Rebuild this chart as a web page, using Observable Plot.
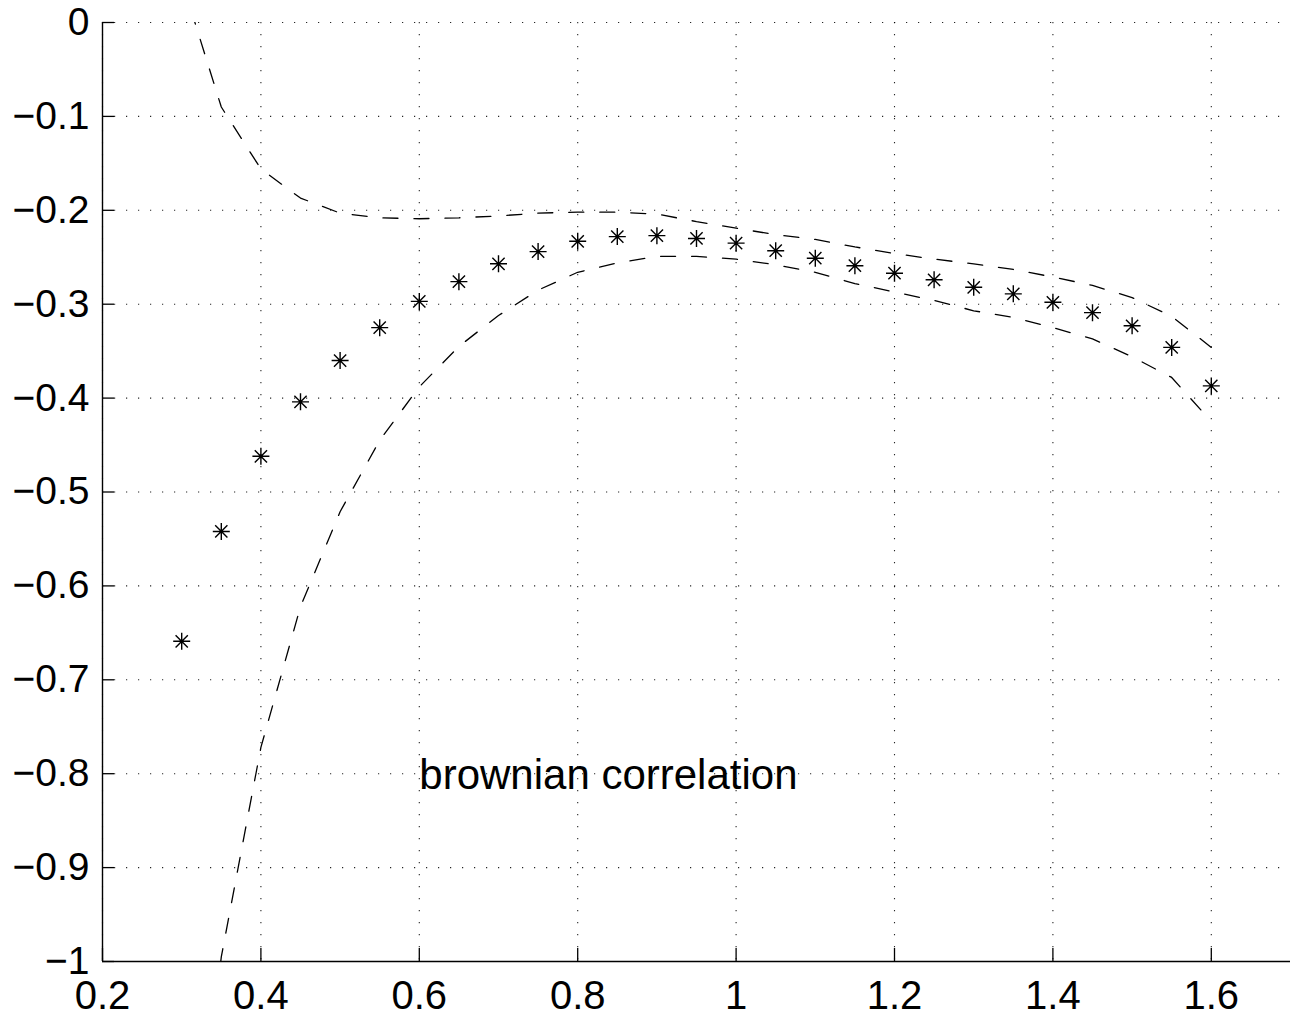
<!DOCTYPE html>
<html>
<head>
<meta charset="utf-8">
<script src="https://cdn.jsdelivr.net/npm/d3@7"></script>
<script src="https://cdn.jsdelivr.net/npm/@observablehq/plot@0.6"></script>
<style>
  html, body { margin: 0; padding: 0; background: #fff; }
  #chart svg { display: block; }
</style>
</head>
<body>
<div id="chart"></div>
<script>
// ---- data ----
const xs = [0.3, 0.35, 0.4, 0.45, 0.5, 0.55, 0.6, 0.65, 0.7, 0.75, 0.8, 0.85, 0.9, 0.95,
            1.0, 1.05, 1.1, 1.15, 1.2, 1.25, 1.3, 1.35, 1.4, 1.45, 1.5, 1.55, 1.6];
const estimate = [-0.659, -0.542, -0.462, -0.404, -0.360, -0.325, -0.297, -0.276, -0.257, -0.244,
                  -0.233, -0.228, -0.227, -0.230, -0.235, -0.243, -0.251, -0.259, -0.267, -0.274,
                  -0.282, -0.289, -0.298, -0.309, -0.323, -0.346, -0.387];
const upperBand = [0.045, -0.090, -0.156, -0.187, -0.203, -0.208, -0.209, -0.208, -0.206, -0.203,
                   -0.202, -0.202, -0.204, -0.212, -0.219, -0.226, -0.231, -0.239, -0.246, -0.252,
                   -0.257, -0.263, -0.271, -0.280, -0.293, -0.313, -0.346];
const lowerBand = [-1.363, -0.995, -0.772, -0.622, -0.521, -0.445, -0.388, -0.345, -0.312, -0.285,
                   -0.266, -0.256, -0.249, -0.249, -0.252, -0.258, -0.266, -0.278, -0.287, -0.296,
                   -0.307, -0.314, -0.325, -0.337, -0.356, -0.378, -0.425];
const xTicks = [0.2, 0.4, 0.6, 0.8, 1.0, 1.2, 1.4, 1.6];
const yTicks = [0, -0.1, -0.2, -0.3, -0.4, -0.5, -0.6, -0.7, -0.8, -0.9, -1];
const xDomain = [0.2, 1.7];
const yDomain = [-1, 0];
const annotation = [{x: 0.6, y: -0.8, label: "brownian correlation"}];

// ---- build ----
const stars = xs.map((x, i) => ({x, y: estimate[i]}));
const upper = xs.map((x, i) => ({x, y: upperBand[i]}));
const lower = xs.map((x, i) => ({x, y: lowerBand[i]}));

const W = 1299, H = 1019;
const mL = 102, mR = 9, mT = 22, mB = 58;
const fmt = d3.format("~g");
const font = "'Liberation Sans', Helvetica, Arial, sans-serif";

const asterisk = {
  draw(ctx, size) {
    const r = Math.sqrt(size / Math.PI);
    const d = r * 0.72;
    ctx.moveTo(-r, 0); ctx.lineTo(r, 0);
    ctx.moveTo(0, -r); ctx.lineTo(0, r);
    ctx.moveTo(-d, -d); ctx.lineTo(d, d);
    ctx.moveTo(-d, d); ctx.lineTo(d, -d);
  }
};

const grid = {stroke: "#000", strokeOpacity: 0.85, strokeWidth: 1.1, strokeDasharray: "1.2,10.8"};

const chart = Plot.plot({
  width: W, height: H,
  marginLeft: mL, marginRight: mR, marginTop: mT, marginBottom: mB,
  style: {fontFamily: font, background: "#fff", color: "#000", overflow: "visible"},
  x: {domain: xDomain, axis: null},
  y: {domain: yDomain, axis: null},
  marks: [
    Plot.ruleX(xTicks, {x: d => d, ...grid}),
    Plot.ruleY(yTicks, {y: d => d, ...grid}),
    Plot.line(upper, {x: "x", y: "y", stroke: "#000", strokeWidth: 1.3, strokeDasharray: "15,16", clip: true}),
    Plot.line(lower, {x: "x", y: "y", stroke: "#000", strokeWidth: 1.3, strokeDasharray: "15,16", clip: true}),
    Plot.dot(stars, {x: "x", y: "y", symbol: asterisk, r: 8.5, stroke: "#000", strokeWidth: 1.4, fill: "none"}),
    Plot.text(annotation, {x: "x", y: "y", text: "label", textAnchor: "start", lineAnchor: "middle",
      fontSize: 42, fill: "#000", dy: 2}),
    // axis lines (left and bottom only)
    Plot.ruleX([xDomain[0]], {x: d => d, stroke: "#000", strokeWidth: 1.4}),
    Plot.ruleY([yDomain[0]], {y: d => d, stroke: "#000", strokeWidth: 1.4}),
    // inward ticks
    Plot.tickY(yTicks, {y: d => d, stroke: "#000", strokeWidth: 1.3, insetRight: W - mL - mR - 12}),
    Plot.tickX(xTicks, {x: d => d, stroke: "#000", strokeWidth: 1.3, insetTop: H - mT - mB - 13}),
    // tick labels
    Plot.axisY(yTicks, {tickSize: 0, tickPadding: 13, fontSize: 39, tickFormat: fmt, fill: "#000", label: null}),
    Plot.axisX(xTicks, {tickSize: 0, tickPadding: 19, fontSize: 40, tickFormat: fmt, fill: "#000", label: null})
  ]
});
document.getElementById("chart").appendChild(chart);
</script>
</body>
</html>
